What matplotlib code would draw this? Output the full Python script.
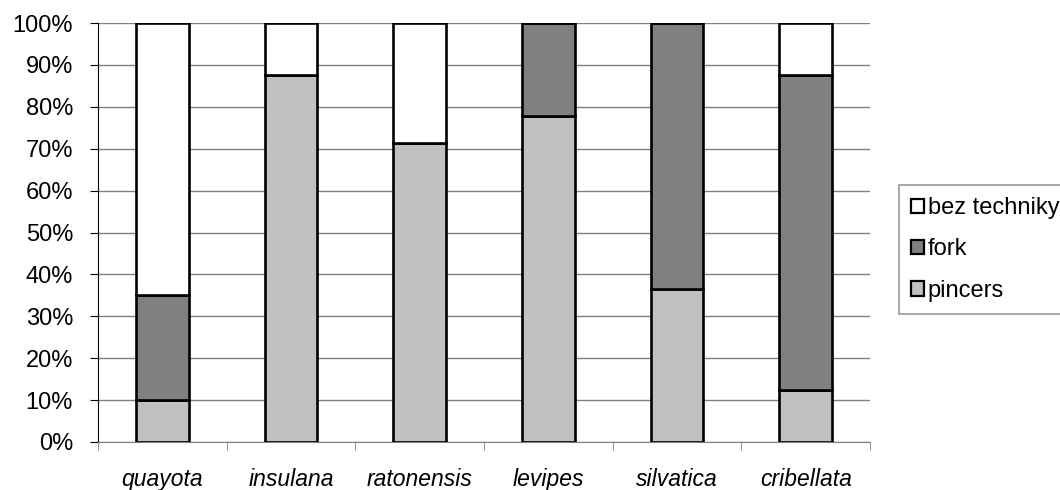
import matplotlib
matplotlib.use('Agg')
import matplotlib.pyplot as plt
from matplotlib.ticker import FixedLocator, PercentFormatter
import numpy as np

plt.rcParams['font.family'] = ['Liberation Sans', 'DejaVu Sans']

species = ['quayota', 'insulana', 'ratonensis', 'levipes', 'silvatica', 'cribellata']
pincers = [10.0, 87.5, 71.4, 77.8, 36.4, 12.5]
fork = [25.0, 0.0, 0.0, 22.2, 63.6, 75.0]
bez_techniky = [65.0, 12.5, 28.6, 0.0, 0.0, 12.5]

fig = plt.figure(figsize=(10.6, 4.9), dpi=100)
ax = fig.add_axes([0.0925, 0.098, 0.7283, 0.855])

x = np.arange(len(species))
w = 0.41
edge = dict(edgecolor='black', linewidth=1.9, zorder=3)
b1 = ax.bar(x, pincers, w, color='#c0c0c0', label='pincers', **edge)
b2 = ax.bar(x, fork, w, bottom=pincers, color='#808080', label='fork', **edge)
base = np.array(pincers) + np.array(fork)
b3 = ax.bar(x, bez_techniky, w, bottom=base, color='white', label='bez techniky', **edge)

ax.set_xlim(-0.5, len(species) - 0.5)
ax.set_ylim(0, 100)
ax.yaxis.set_major_locator(FixedLocator(np.arange(0, 101, 10)))
ax.yaxis.set_major_formatter(PercentFormatter(decimals=0))
ax.grid(axis='y', color='#808080', linewidth=1, zorder=0)

ax.set_xticks(x)
ax.set_xticklabels(species, fontstyle='italic')
ax.xaxis.set_minor_locator(FixedLocator(np.arange(-0.5, len(species), 1)))
ax.tick_params(axis='x', which='major', length=0, pad=19, labelsize=16.5)
ax.tick_params(axis='x', which='minor', length=6, color='#808080', direction='out')
ax.tick_params(axis='y', length=6, pad=12, labelsize=17, color='black')

for s in ['top', 'right']:
    ax.spines[s].set_visible(False)
ax.spines['left'].set_color('black')
ax.spines['bottom'].set_color('#808080')

# legend box starts right of the plot and runs to the figure edge
leg = fig.legend(handles=[b3, b2, b1], loc='upper left',
                 bbox_to_anchor=(0.848, 0.622), fontsize=17,
                 frameon=True, fancybox=False, edgecolor='#808080',
                 handlelength=0.55, handleheight=0.55, handletextpad=0.18,
                 labelspacing=0.82, borderpad=0.5, borderaxespad=0)
leg.get_frame().set_linewidth(1.2)
for h in leg.legend_handles:
    h.set_linewidth(1.6)

fig.savefig('out.png', dpi=100)
